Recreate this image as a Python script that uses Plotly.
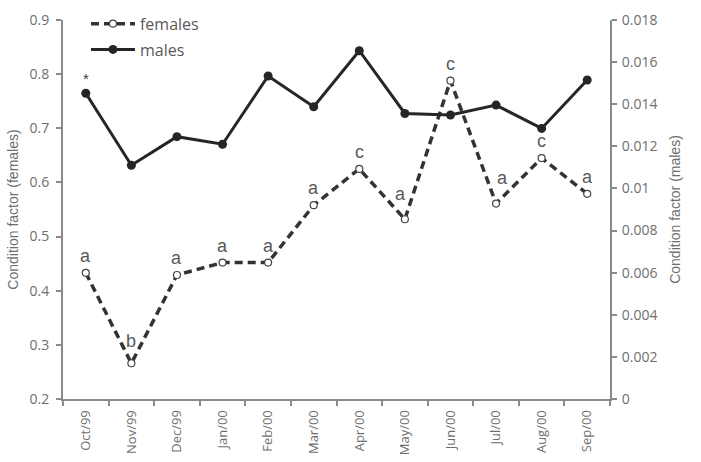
import plotly.graph_objects as go

months = ["Oct/99", "Nov/99", "Dec/99", "Jan/00", "Feb/00", "Mar/00",
          "Apr/00", "May/00", "Jun/00", "Jul/00", "Aug/00", "Sep/00"]
females = [0.433, 0.266, 0.429, 0.452, 0.452, 0.558, 0.625, 0.532, 0.788, 0.561, 0.645, 0.579]
males = [0.01452, 0.0111, 0.01246, 0.0121, 0.01534, 0.01388, 0.01654, 0.01356, 0.01349, 0.01396, 0.01285, 0.01515]
letters = ["a", "b", "a", "a", "a", "a", "c", "a", "c", "a", "c", "a"]
left_ticks = [0.2, 0.3, 0.4, 0.5, 0.6, 0.7, 0.8, 0.9]
right_ticks = [0, 0.002, 0.004, 0.006, 0.008, 0.01, 0.012, 0.014, 0.016, 0.018]
right_tick_text = ["0", "0.002", "0.004", "0.006", "0.008", "0.01", "0.012", "0.014", "0.016", "0.018"]

GRAY = "#8a8a8a"
TICKFONT = dict(family="Open Sans", size=14, color="#6e6e6e")

fig = go.Figure()
fig.add_trace(go.Scatter(
    x=months, y=females, name="females", mode="lines+markers",
    line=dict(color="#333333", width=3.5, dash="8px,5px"),
    marker=dict(symbol="circle", size=7, color="white",
                line=dict(color="#444444", width=1.2)),
    yaxis="y", legendgroup="f"))
fig.add_trace(go.Scatter(
    x=months, y=males, name="males", mode="lines+markers",
    line=dict(color="#262626", width=3),
    marker=dict(symbol="circle", size=9, color="#262626"),
    yaxis="y2", legendgroup="m"))

# label placement tweaks (pixels) where the letter sits clear of the dashed line
label_shift = {"May/00": (-4, 25), "Jul/00": (6, 26), "Nov/99": (0, 22)}
for m, v, t in zip(months, females, letters):
    dx, dy = label_shift.get(m, (0, 17))
    fig.add_annotation(x=m, y=v, xref="x", yref="y", text=t, showarrow=False,
                       xshift=dx, yshift=dy,
                       font=dict(family="Liberation Sans", size=18, color="#5a5a5a"))
fig.add_annotation(x=months[0], y=males[0], xref="x", yref="y2", text="*", showarrow=False,
                   yshift=15, font=dict(family="Liberation Sans", size=15, color="#3a3a3a"))

fig.update_layout(
    width=701, height=462,
    margin=dict(l=63, r=91, t=20, b=63, autoexpand=False),
    paper_bgcolor="white", plot_bgcolor="white",
    showlegend=True,
    legend=dict(x=0.042, y=1.035, xanchor="left", yanchor="top",
                font=dict(family="Open Sans", size=16, color="#595959"),
                bgcolor="rgba(0,0,0,0)", tracegroupgap=2, itemwidth=44),
    xaxis=dict(type="category", showline=True, linecolor=GRAY, linewidth=2,
               ticks="outside", tickson="boundaries", ticklen=5, tickcolor=GRAY, tickwidth=2,
               tickangle=-90, tickfont=dict(family="Open Sans", size=13, color="#6e6e6e"),
               ticklabelstandoff=4, automargin=False,
               showgrid=False, zeroline=False, range=[-0.5, 11.5]),
    yaxis=dict(range=[0.2, 0.9], tickvals=left_ticks, showline=True, linecolor=GRAY, linewidth=2,
               ticks="outside", ticklen=5, tickcolor=GRAY, tickwidth=2, automargin=False,
               tickfont=TICKFONT, showgrid=False, zeroline=False, ticklabelstandoff=4,
               title=dict(text="Condition factor (females)", standoff=8,
                          font=dict(family="Liberation Sans", size=14, color="#6e6e6e"))),
    yaxis2=dict(range=[0, 0.018], tickvals=right_ticks, ticktext=right_tick_text,
                overlaying="y", side="right", showline=True, linecolor=GRAY, linewidth=2,
                ticks="outside", ticklen=5, tickcolor=GRAY, tickwidth=2, automargin=False,
                tickfont=TICKFONT, showgrid=False, zeroline=False, ticklabelstandoff=2,
                title=dict(text="Condition factor (males)", standoff=14,
                           font=dict(family="Liberation Sans", size=14, color="#6e6e6e"))),
)

fig.write_html("out.html")
